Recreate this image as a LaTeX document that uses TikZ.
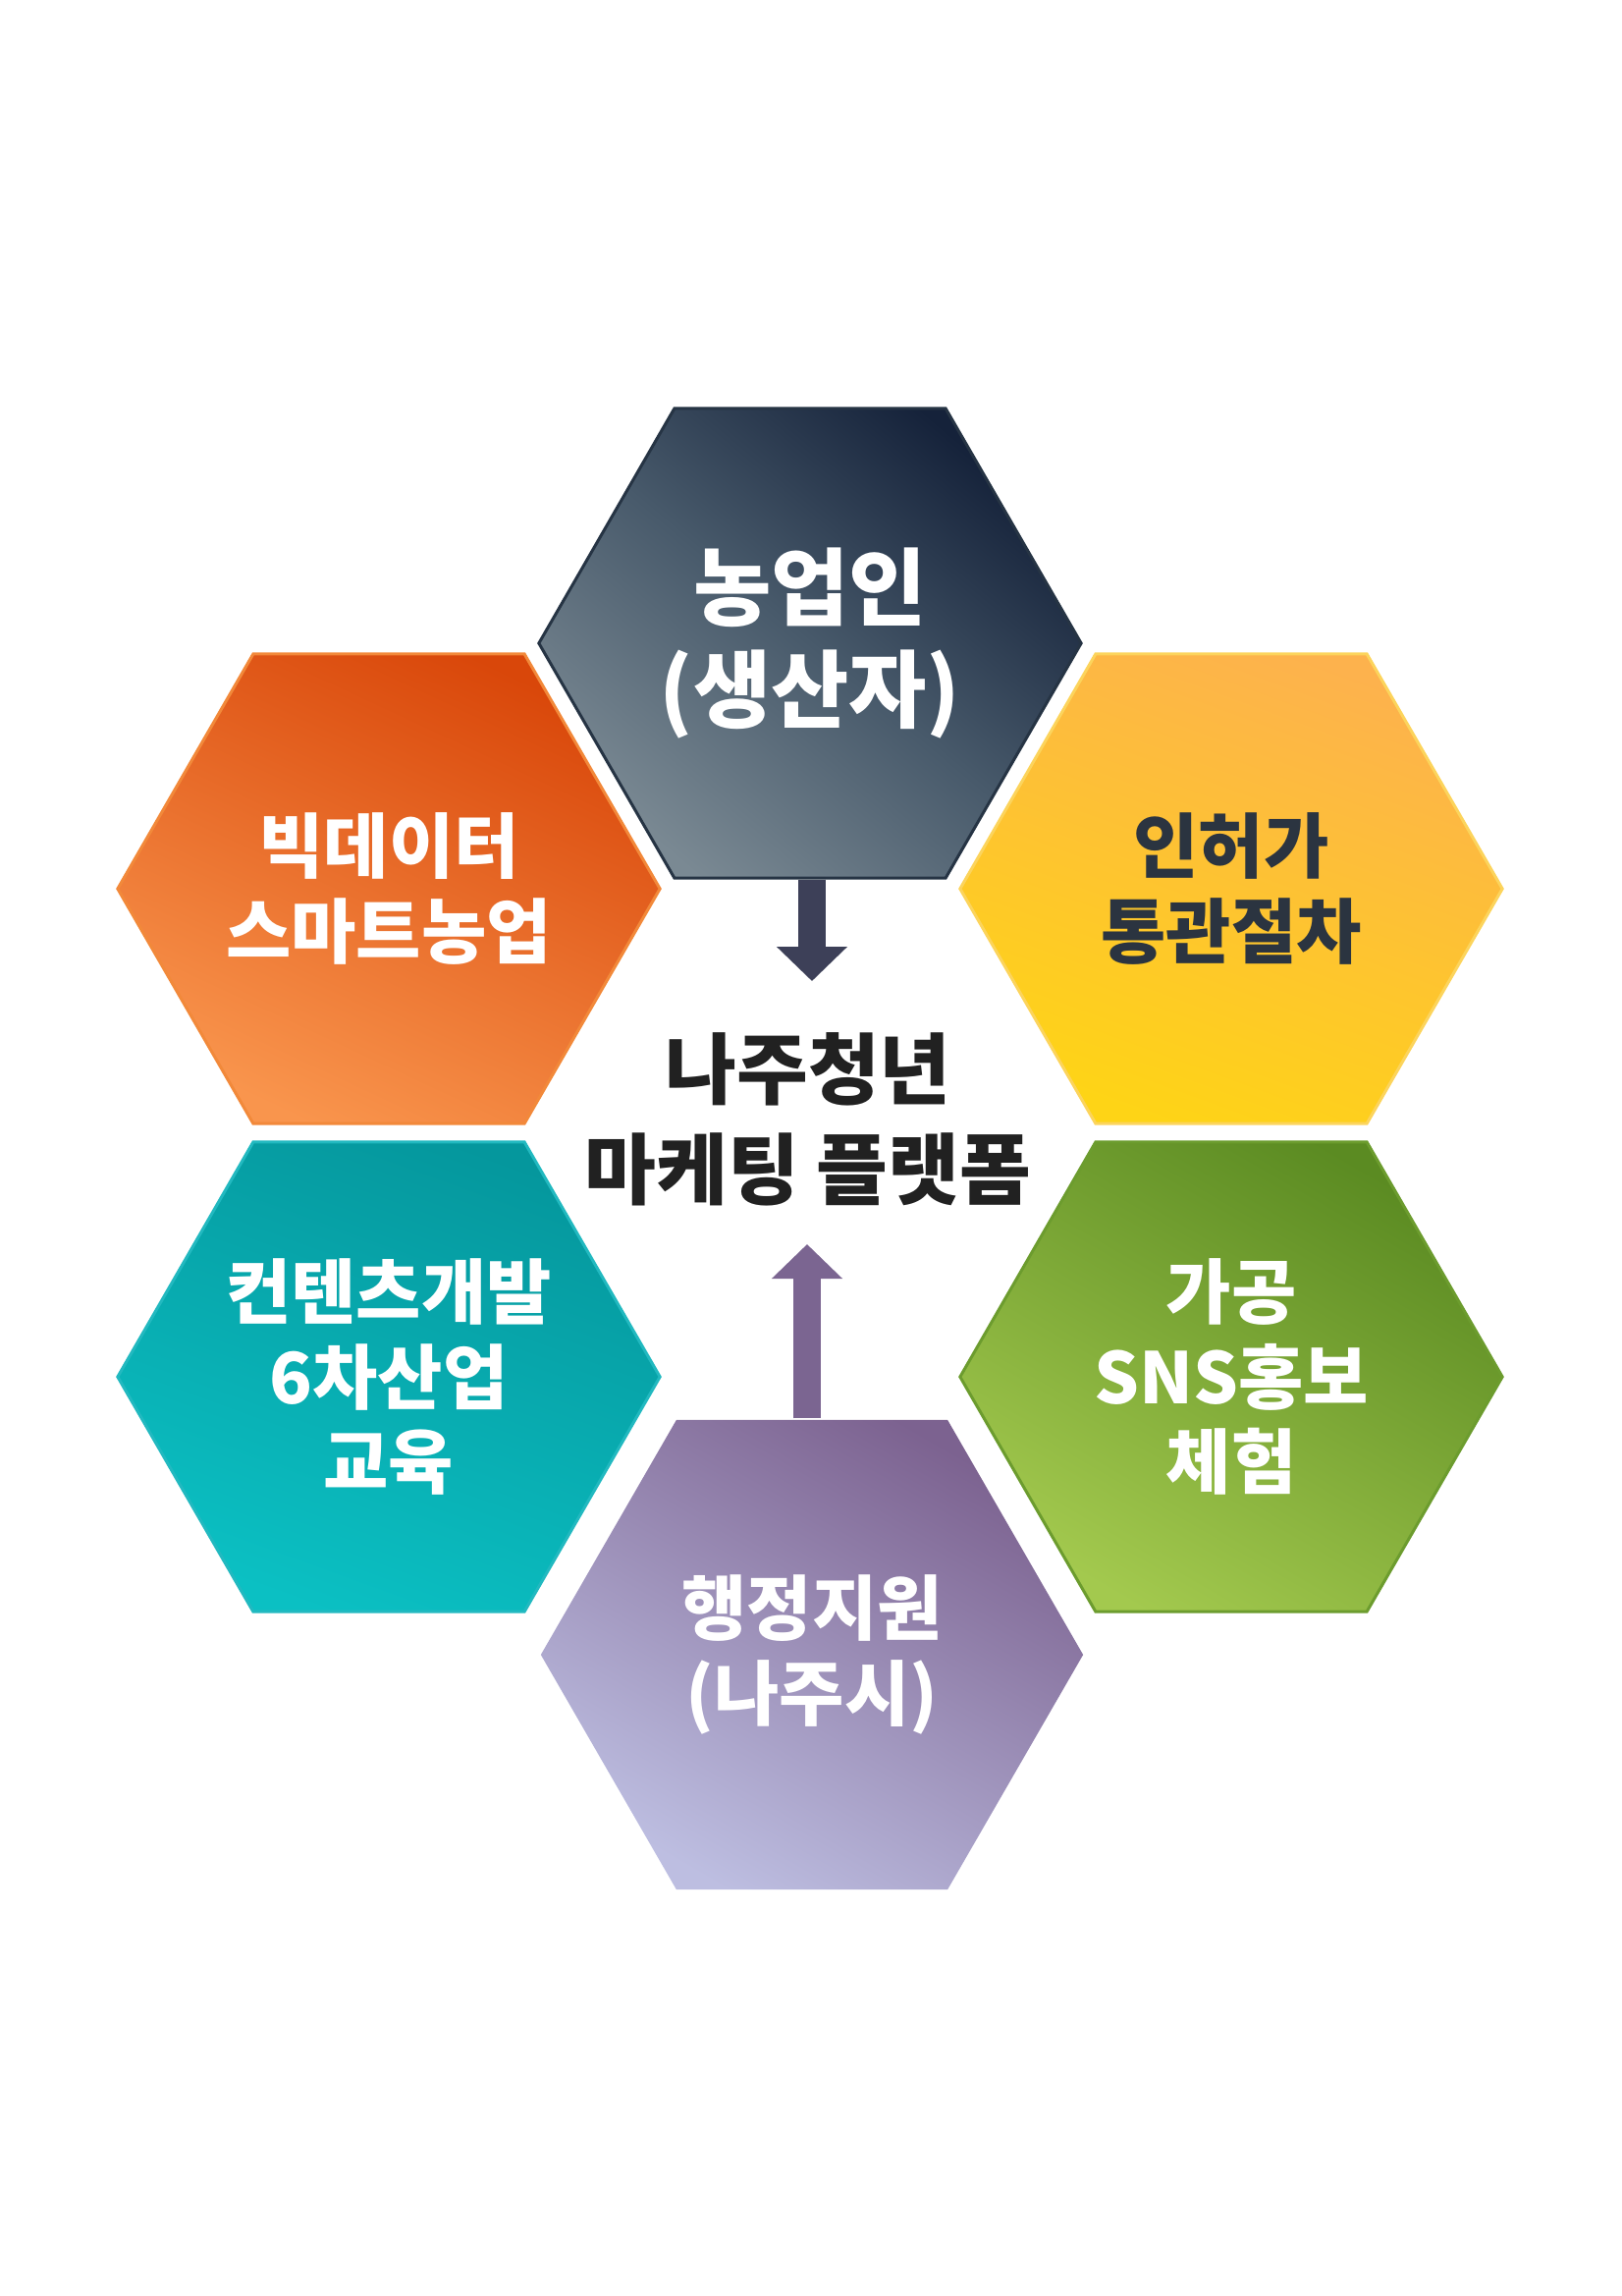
\documentclass[tikz,border=0pt]{standalone}
\usepackage{fontspec}
\setmainfont{Noto Sans CJK KR}
\usetikzlibrary{arrows.meta,positioning,shapes.geometric}
\tikzset{>=Stealth}

\definecolor{farmtop}{HTML}{15223A}
\definecolor{farmmid}{HTML}{485A6B}
\definecolor{farmbot}{HTML}{7A8993}
\definecolor{farmline}{HTML}{263444}
\definecolor{datatop}{HTML}{D9470A}
\definecolor{databot}{HTML}{F9954D}
\definecolor{dataline}{HTML}{F2893A}
\definecolor{permtop}{HTML}{FDB24D}
\definecolor{permbot}{HTML}{FED416}
\definecolor{permline}{HTML}{FCD45C}
\definecolor{edutop}{HTML}{05979D}
\definecolor{edubot}{HTML}{0BC0C3}
\definecolor{eduline}{HTML}{22B9C0}
\definecolor{snstop}{HTML}{5B8B22}
\definecolor{snsbot}{HTML}{A3C94E}
\definecolor{snsline}{HTML}{6C9C2E}
\definecolor{citytop}{HTML}{7C6290}
\definecolor{citybot}{HTML}{BDBEE1}
\definecolor{inktext}{HTML}{2B3440}
\definecolor{downarrow}{HTML}{3D4058}
\definecolor{uparrow}{HTML}{7B6591}

\begin{document}
\begin{tikzpicture}[x=0.01cm, y=-0.01cm,
    hexa/.style={regular polygon, regular polygon sides=6, minimum size=5.52cm,
      inner sep=0pt, align=center, line width=0.03cm, text=white,
      font=\bfseries\fontsize{20.5}{24.5}\selectfont},
    flow/.style={line width=0.28cm, -{Triangle[width=0.70cm, length=0.35cm]}}
  ]
  \useasboundingbox (0,0) rectangle (1652,2338);
  \node[hexa, draw=farmline, top color=farmtop, bottom color=farmbot, middle color=farmmid,
    shading angle=-40, font=\bfseries\fontsize{24.5}{29.5}\selectfont] (farmer) at (825,655) {농업인\\(생산자)};
  \node[hexa, draw=dataline, top color=datatop, bottom color=databot, shading angle=-25] (data) at (396,905) {빅데이터\\스마트농업};
  \node[hexa, draw=permline, top color=permtop, bottom color=permbot, shading angle=-20, text=inktext] (permit) at (1254,905) {인허가\\통관절차};
  \node[hexa, draw=eduline, top color=edutop, bottom color=edubot, shading angle=-20] (edu) at (396,1402) {컨텐츠개발\\6차산업\\교육};
  \node[hexa, draw=snsline, top color=snstop, bottom color=snsbot, shading angle=-30] (sns) at (1254,1402) {가공\\SNS홍보\\체험};
  \node[hexa, top color=citytop, bottom color=citybot, shading angle=-30] (city) at (827,1685) {행정지원\\(나주시)};

  \node[align=center, text=black!87, font=\bfseries\fontsize{22.5}{29}\selectfont] (platform) at (823,1140) {나주청년\\마케팅 플랫폼};

  \coordinate (downtip) at (827,999);
  \coordinate (uptip) at (822,1267);
  \draw[flow, downarrow] (farmer.south -| downtip) -- (downtip);
  \draw[flow, uparrow, line width=0.27cm] (city.north -| uptip) -- (uptip);
\end{tikzpicture}
\end{document}
